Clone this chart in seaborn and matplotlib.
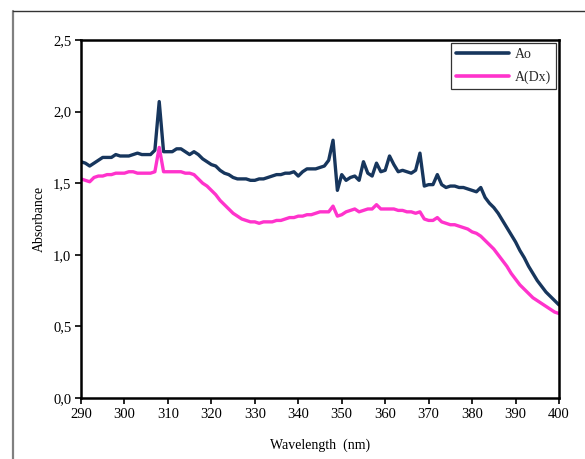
import numpy as np
import pandas as pd
import matplotlib
matplotlib.use("Agg")
import matplotlib.pyplot as plt
from matplotlib.lines import Line2D
from matplotlib.ticker import FuncFormatter, MultipleLocator
import seaborn as sns

# Wavelength grid (nm) and absorbance spectra
wavelength = list(range(290, 401))

ao = [
    1.65, 1.64, 1.62, 1.64, 1.66, 1.68, 1.68, 1.68, 1.70, 1.69,   # 290-299
    1.69, 1.69, 1.70, 1.71, 1.70, 1.70, 1.70, 1.73, 2.07, 1.72,   # 300-309
    1.72, 1.72, 1.74, 1.74, 1.72, 1.70, 1.72, 1.70, 1.67, 1.65,   # 310-319
    1.63, 1.62, 1.59, 1.57, 1.56, 1.54, 1.53, 1.53, 1.53, 1.52,   # 320-329
    1.52, 1.53, 1.53, 1.54, 1.55, 1.56, 1.56, 1.57, 1.57, 1.58,   # 330-339
    1.55, 1.58, 1.60, 1.60, 1.60, 1.61, 1.62, 1.66, 1.80, 1.45,   # 340-349
    1.56, 1.52, 1.54, 1.55, 1.52, 1.65, 1.57, 1.55, 1.64, 1.58,   # 350-359
    1.59, 1.69, 1.63, 1.58, 1.59, 1.58, 1.57, 1.59, 1.71, 1.48,   # 360-369
    1.49, 1.49, 1.56, 1.49, 1.47, 1.48, 1.48, 1.47, 1.47, 1.46,   # 370-379
    1.45, 1.44, 1.47, 1.40, 1.36, 1.33, 1.29, 1.24, 1.19, 1.14,   # 380-389
    1.09, 1.03, 0.98, 0.92, 0.87, 0.82, 0.78, 0.74, 0.71, 0.68,   # 390-399
    0.65,                                                         # 400
]

a_dx = [
    1.53, 1.52, 1.51, 1.54, 1.55, 1.55, 1.56, 1.56, 1.57, 1.57,   # 290-299
    1.57, 1.58, 1.58, 1.57, 1.57, 1.57, 1.57, 1.58, 1.75, 1.58,   # 300-309
    1.58, 1.58, 1.58, 1.58, 1.57, 1.57, 1.56, 1.53, 1.50, 1.48,   # 310-319
    1.45, 1.42, 1.38, 1.35, 1.32, 1.29, 1.27, 1.25, 1.24, 1.23,   # 320-329
    1.23, 1.22, 1.23, 1.23, 1.23, 1.24, 1.24, 1.25, 1.26, 1.26,   # 330-339
    1.27, 1.27, 1.28, 1.28, 1.29, 1.30, 1.30, 1.30, 1.34, 1.27,   # 340-349
    1.28, 1.30, 1.31, 1.32, 1.30, 1.31, 1.32, 1.32, 1.35, 1.32,   # 350-359
    1.32, 1.32, 1.32, 1.31, 1.31, 1.30, 1.30, 1.29, 1.30, 1.25,   # 360-369
    1.24, 1.24, 1.26, 1.23, 1.22, 1.21, 1.21, 1.20, 1.19, 1.18,   # 370-379
    1.16, 1.15, 1.13, 1.10, 1.07, 1.04, 1.00, 0.96, 0.92, 0.87,   # 380-389
    0.83, 0.79, 0.76, 0.73, 0.70, 0.68, 0.66, 0.64, 0.62, 0.60,   # 390-399
    0.59,                                                         # 400
]

series_names = ["Ao", "A(Dx)"]
series_colors = ["#17365D", "#FF33CC"]

df = pd.concat([
    pd.DataFrame({"Wavelength": wavelength, "Absorbance": ao, "Series": series_names[0]}),
    pd.DataFrame({"Wavelength": wavelength, "Absorbance": a_dx, "Series": series_names[1]}),
], ignore_index=True)

sns.set_theme(style="white")
plt.rcParams["font.family"] = ["Liberation Serif", "DejaVu Serif"]

fig = plt.figure(figsize=(5.85, 4.59), dpi=100)
ax = fig.add_axes([81 / 585, 61 / 459, 478 / 585, 358 / 459])

sns.lineplot(
    data=df, x="Wavelength", y="Absorbance", hue="Series",
    hue_order=series_names, palette=series_colors,
    linewidth=2.4, ax=ax, legend=False,
)

ax.set_xlim(290, 400)
ax.set_ylim(0, 2.5)
ax.xaxis.set_major_locator(MultipleLocator(10))
ax.yaxis.set_major_locator(MultipleLocator(0.5))
ax.yaxis.set_major_formatter(FuncFormatter(lambda v, _: f"{v:.1f}".replace(".", ",")))

for side in ["left", "bottom", "top", "right"]:
    ax.spines[side].set_visible(True)
    ax.spines[side].set_color("black")
    ax.spines[side].set_linewidth(1.8)

ax.tick_params(axis="both", which="major", direction="out", length=4, width=1.2,
               color="black", labelsize=10.5, labelcolor="black", pad=3)
ax.tick_params(left=True, bottom=True, top=False, right=False)

ax.set_xlabel("Wavelength  (nm)", fontsize=10, color="black", labelpad=13)
ax.set_ylabel("Absorbance", fontsize=10, color="black", labelpad=5)

handles = [Line2D([0], [0], color=c, linewidth=2.6) for c in series_colors]
leg = ax.legend(handles, series_names, loc="upper right", fontsize=10,
                frameon=True, fancybox=False, handlelength=3.8, handletextpad=0.4,
                borderpad=0.4, labelspacing=0.65, borderaxespad=0.2)
leg.get_frame().set_edgecolor("black")
leg.get_frame().set_linewidth(0.9)

# Outer frame of the figure panel
fig.add_artist(Line2D([13 / 585, 13 / 585], [0, 1 - 11 / 459], transform=fig.transFigure,
                      color="#808080", linewidth=1.6))
fig.add_artist(Line2D([13 / 585, 1], [1 - 11 / 459, 1 - 11 / 459], transform=fig.transFigure,
                      color="#333333", linewidth=1.0))

fig.savefig("out.png", dpi=100, facecolor="white")
